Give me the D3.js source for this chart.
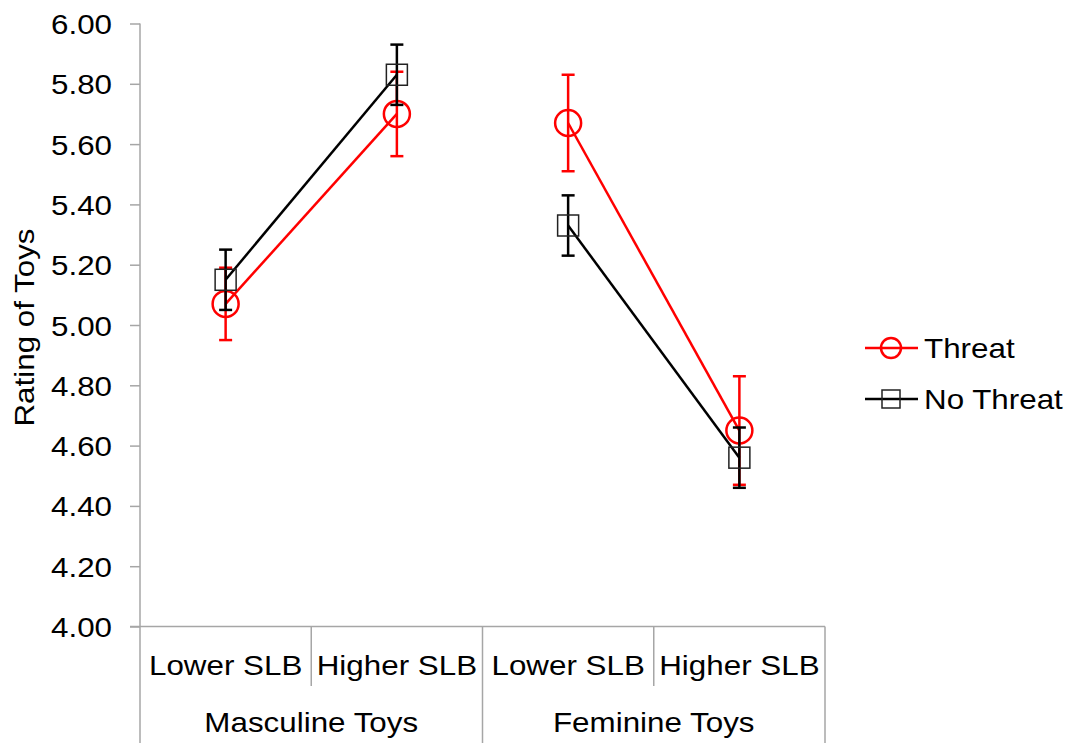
<!DOCTYPE html>
<html><head><meta charset="utf-8">
<script src="https://cdn.jsdelivr.net/npm/d3@7"></script>
<style>body{margin:0;background:#fff}text{font-family:"Liberation Sans",Arial,sans-serif;fill:#000}</style>
</head><body>
<svg id="c" width="1071" height="743"></svg>
<script>
const categories = ["Lower SLB","Higher SLB","Lower SLB","Higher SLB"];
const groups = ["Masculine Toys","Feminine Toys"];
const threat = [5.07,5.70,5.67,4.65];
const threatErr = [0.12,0.14,0.16,0.18];
const noThreat = [5.15,5.83,5.33,4.56];
const noThreatErr = [0.10,0.10,0.10,0.10];
const yTicks = [4.0,4.2,4.4,4.6,4.8,5.0,5.2,5.4,5.6,5.8,6.0];
const seriesNames = ["Threat","No Threat"];

const svg = d3.select("#c");
const axisGray = "#a6a6a6";
const FS = 28, SX = 1.12;
const y = d3.scaleLinear().domain([4,6]).range([626.5,23.5]);
const x = d3.scaleBand().domain(d3.range(categories.length)).range([140,825]).padding(0);
const cx = i => x(i) + x.bandwidth()/2;

// y axis
const yAxis = d3.axisLeft(y).tickValues(yTicks).tickSize(10).tickPadding(18).tickFormat(d3.format(".2f"));
const ga = svg.append("g").attr("transform","translate(140,0)").call(yAxis);
ga.select(".domain").remove();
ga.selectAll(".tick line").attr("stroke",axisGray).attr("stroke-width",1.5);
ga.selectAll(".tick text").attr("font-size",FS).attr("font-family","Liberation Sans, Arial").attr("fill","#000")
  .attr("dy","0.36em").attr("x",null)
  .attr("transform",function(){return `translate(-28,0) scale(${SX},1)`;}).attr("text-anchor","end");
svg.append("line").attr("x1",140).attr("x2",140).attr("y1",y(6)).attr("y2",743).attr("stroke",axisGray).attr("stroke-width",1.5);
// x axis line
svg.append("line").attr("x1",130).attr("x2",825).attr("y1",y(4)).attr("y2",y(4)).attr("stroke",axisGray).attr("stroke-width",1.5);
// separators
categories.forEach((c,i)=>{
  const xe = x(i)+x.bandwidth();
  const full = (i%2===1);
  svg.append("line").attr("x1",xe).attr("x2",xe).attr("y1",y(4)).attr("y2",full?743:686).attr("stroke",axisGray).attr("stroke-width",1.5);
  svg.append("text").attr("transform",`translate(${cx(i)},675) scale(${SX},1)`).attr("text-anchor","middle").attr("font-size",FS).text(c);
});
groups.forEach((g,j)=>{
  const gx = (x(2*j) + x(2*j+1)+x.bandwidth())/2;
  svg.append("text").attr("transform",`translate(${gx},732) scale(${SX},1)`).attr("text-anchor","middle").attr("font-size",FS).text(g);
});
// y title
svg.append("text").attr("transform",`translate(34,${(225+430)/2}) rotate(-90) scale(${SX},1)`).attr("text-anchor","middle").attr("font-size",FS).text("Rating of Toys");

function drawSeries(vals, errs, color, shape){
  const g = svg.append("g");
  const line = d3.line().x(d=>cx(d)).y(d=>y(vals[d]));
  groups.forEach((gname,j)=>{
    g.append("path").attr("d",line([2*j,2*j+1])).attr("fill","none").attr("stroke",color).attr("stroke-width",2.5);
  });
  vals.forEach((v,i)=>{
    const X = cx(i);
    g.append("line").attr("x1",X).attr("x2",X).attr("y1",y(v+errs[i])).attr("y2",y(v-errs[i])).attr("stroke",color).attr("stroke-width",2.5);
    [v+errs[i], v-errs[i]].forEach(e=>{
      g.append("line").attr("x1",X-6.5).attr("x2",X+6.5).attr("y1",y(e)).attr("y2",y(e)).attr("stroke",color).attr("stroke-width",2.5);
    });
  });
  vals.forEach((v,i)=>{
    if(shape==="circle") g.append("circle").attr("cx",cx(i)).attr("cy",y(v)).attr("r",13).attr("fill","none").attr("stroke",color).attr("stroke-width",2.5);
    else g.append("rect").attr("x",cx(i)-10.5).attr("y",y(v)-10.5).attr("width",21).attr("height",21).attr("fill","none").attr("stroke","#222").attr("stroke-width",1.5);
  });
}
drawSeries(threat, threatErr, "#ff0000", "circle");
drawSeries(noThreat, noThreatErr, "#000000", "square");

// legend
const leg = svg.append("g");
[[seriesNames[0],"#ff0000","circle",348],[seriesNames[1],"#000","square",399]].forEach(([n,c,s,ly])=>{
  leg.append("line").attr("x1",865).attr("x2",918).attr("y1",ly).attr("y2",ly).attr("stroke",c).attr("stroke-width",2.5);
  if(s==="circle") leg.append("circle").attr("cx",891).attr("cy",ly).attr("r",10).attr("fill","none").attr("stroke",c).attr("stroke-width",2.5);
  else leg.append("rect").attr("x",882).attr("y",ly-9).attr("width",18).attr("height",18).attr("fill","none").attr("stroke","#222").attr("stroke-width",1.5);
  leg.append("text").attr("transform",`translate(924,${ly+9.5}) scale(${SX},1)`).attr("font-size",FS).text(n);
});
</script>
</body></html>
